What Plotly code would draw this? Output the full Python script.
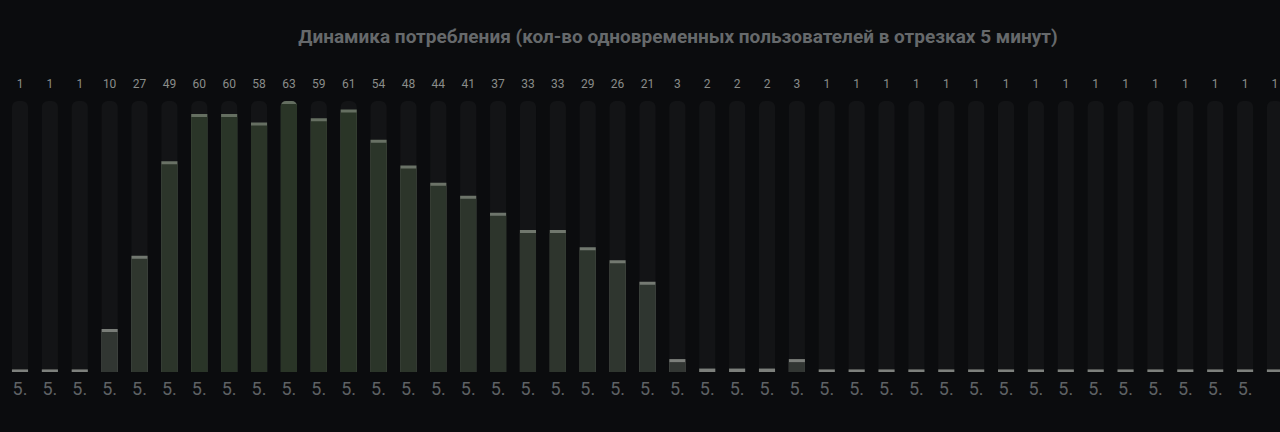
import plotly.graph_objects as go

# number of concurrent users per 5-minute slot
users = [1, 1, 1, 10, 27, 49, 60, 60, 58, 63, 59, 61, 54, 48, 44, 41, 37,
         33, 33, 29, 26, 21, 3, 2, 2, 2, 3,
         1, 1, 1, 1, 1, 1, 1, 1, 1, 1, 1, 1, 1, 1, 1, 1]
tick_labels = ['5.'] * len(users)
slots = list(range(len(users)))

TITLE = 'Динамика потребления (кол-во одновременных пользователей в отрезках 5 минут)'

BG = '#0b0c0e'
TRACK = '#131416'
BAR_W = 0.54
CAP = 0.7  # thickness of light top edge, in value units


def blend(lo, hi, t):
    r, g, b = [round(a + (c - a) * t) for a, c in zip(lo, hi)]
    return 'rgb({},{},{})'.format(r, g, b)


def bar_color(v, vmax):
    '''gray for small values, drifting to muted green for the big ones'''
    return blend((50, 54, 52), (42, 53, 39), v / vmax)


def cap_color(v, vmax):
    return blend((125, 128, 124), (100, 110, 96), v / vmax)


vmax = max(users)
px_per_unit = 271 / vmax
y_top = 302 / px_per_unit
label_y = 287 / px_per_unit

fig = go.Figure()

# background tracks
fig.add_bar(x=slots, y=[vmax] * len(slots), width=BAR_W,
            marker=dict(color=TRACK, cornerradius=6, line_width=0),
            hoverinfo='skip', showlegend=False)

# light top edge (tiny values only show this thin line)
edge = [v if v >= 3 else 0.4 + 0.2 * v for v in users]
fig.add_bar(x=slots, y=edge, width=BAR_W,
            marker=dict(color=[cap_color(v, vmax) for v in users],
                        cornerradius=5, line_width=0),
            hoverinfo='skip', showlegend=False)

# bar body
body = [v - CAP if v >= 3 else 0 for v in users]
fig.add_bar(x=slots, y=body, width=BAR_W,
            marker=dict(color=[bar_color(v, vmax) for v in users],
                        cornerradius=5, line_width=0),
            hovertemplate='%{x}: %{customdata}<extra></extra>',
            customdata=users, showlegend=False)

# value labels in a row above the tracks
fig.add_scatter(x=slots, y=[label_y] * len(slots), mode='text',
                text=[str(v) for v in users],
                textfont=dict(family='Roboto', size=12, color='#8a8d8a'),
                cliponaxis=False, hoverinfo='skip', showlegend=False)

pitch = 29.88
fig.update_layout(
    width=1280, height=432,
    barmode='overlay',
    paper_bgcolor=BG, plot_bgcolor=BG,
    margin=dict(l=0, r=0, t=70, b=60),
    title=dict(text=TITLE, x=678 / 1280, xanchor='center',
               y=1 - 36 / 432, yanchor='middle', yref='container',
               font=dict(family='Roboto', size=19, color='#66696b',
                         weight='bold')),
    xaxis=dict(range=[-20 / pitch, 1260 / pitch], tickmode='array',
               tickvals=slots, ticktext=tick_labels, showgrid=False,
               zeroline=False, showline=False, ticks='',
               ticklabelstandoff=4,
               tickfont=dict(family='Roboto', size=18, color='#5f6265')),
    yaxis=dict(range=[0, y_top], visible=False, showgrid=False,
               zeroline=False),
)

fig.write_html('out.html', config={'displayModeBar': False},
               post_script="document.body.style.margin='0';"
                           "document.body.style.background='#0b0c0e';"
                           "document.body.style.overflow='hidden';")
